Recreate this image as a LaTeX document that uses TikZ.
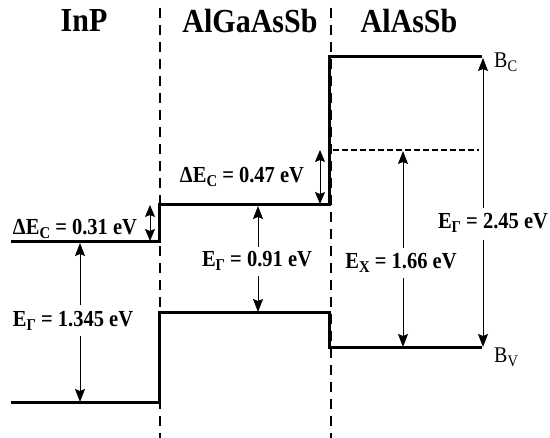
\documentclass[tikz,border=0pt]{standalone}
\usepackage{fontspec}
\setmainfont{Liberation Serif}
\usetikzlibrary{arrows.meta}
\newcommand{\lowsub}[1]{\raisebox{-0.4ex}{\scalebox{0.72}{#1}}}
\newcommand{\tall}[1]{\scalebox{1}[1.12]{#1}}
\tikzset{
  band/.style={line width=3pt, line cap=rect},
  divider/.style={line width=1.4pt, dash pattern=on 10pt off 7pt},
  xlevel/.style={line width=1.6pt, dash pattern=on 6pt off 3pt},
  arr/.style={line width=0.9pt, -{Stealth[length=13pt,width=10pt,inset=2pt]}},
  darr/.style={line width=0.9pt, {Stealth[length=12pt,width=10pt,inset=2pt]}-{Stealth[length=12pt,width=10pt,inset=2pt]}},
  head/.style={font=\fontsize{30}{31}\selectfont\bfseries, inner sep=0pt},
  lab/.style={font=\fontsize{20.5}{22}\selectfont\bfseries, inner sep=1pt},
  edge/.style={font=\fontsize{20}{21}\selectfont, inner sep=0pt, anchor=west}
}
\begin{document}
\begin{tikzpicture}[x=1pt,y=-1pt]
\useasboundingbox (0,0) rectangle (550,438);
% dividers
\coordinate (d1t) at (160,8); \coordinate (d1b) at (160,438);
\coordinate (d2t) at (331,8); \coordinate (d2b) at (331,438);
\draw[divider] (d1t) -- (d1b);
\draw[divider] (d2t) -- (d2b);
% headers
\node[head] (hInP) at (84,21) {\tall{InP}};
\node[head] (hAG) at (250,21) {\tall{AlGaAsSb}};
\node[head] (hAA) at (409,21) {\tall{AlAsSb}};
% conduction band
\coordinate (c0) at (12,242);
\coordinate (c1) at (159,242);
\coordinate (c2) at (159,205);
\coordinate (c3) at (329,205);
\coordinate (c4) at (329,57);
\coordinate (c5) at (480,57);
\draw[band] (c0) -- (c1) -- (c2) -- (c3) -- (c4) -- (c5);
% valence band
\coordinate (v0) at (12,403);
\coordinate (v1) at (159,403);
\coordinate (v2) at (159,313);
\coordinate (v3) at (329,313);
\coordinate (v4) at (329,348);
\coordinate (v5) at (480,348);
\draw[band] (v0) -- (v1) -- (v2) -- (v3) -- (v4) -- (v5);
% X level
\coordinate (x0) at (333,150);
\coordinate (x1) at (479,150);
\draw[xlevel] (x0) -- (x1);
% labels
\node[lab] (l031) at (75,229) {\tall{ΔE\lowsub{C} = 0.31 eV}};
\node[lab] (l1345) at (73,321) {\tall{E\lowsub{Γ} = 1.345 eV}};
\node[lab] (l047) at (242,177) {\tall{ΔE\lowsub{C} = 0.47 eV}};
\node[lab] (l091) at (257,261) {\tall{E\lowsub{Γ} = 0.91 eV}};
\node[lab] (lx) at (401,263) {\tall{E\lowsub{X} = 1.66 eV}};
\node[lab] (l245) at (493,223) {\tall{E\lowsub{Γ} = 2.45 eV}};
\node[edge] (bc) at (494,62) {\tall{B\lowsub{C}}};
\node[edge] (bv) at (494,357) {\tall{B\lowsub{V}}};
% arrows
\coordinate (a1t) at (150,205); \coordinate (a1b) at (150,241);
\draw[darr] (a1b) -- (a1t);
\coordinate (a2t) at (80,243); \coordinate (a2m) at (80,305);
\coordinate (a2n) at (80,336); \coordinate (a2b) at (80,402);
\draw[arr] (a2m) -- (a2t);
\draw[arr] (a2n) -- (a2b);
\coordinate (a3t) at (258,206); \coordinate (a3m) at (258,247);
\coordinate (a3n) at (258,276); \coordinate (a3b) at (258,312);
\draw[arr] (a3m) -- (a3t);
\draw[arr] (a3n) -- (a3b);
\coordinate (a4t) at (320,150); \coordinate (a4b) at (320,204);
\draw[darr] (a4b) -- (a4t);
\coordinate (a5t) at (403,151); \coordinate (a5m) at (403,248);
\coordinate (a5n) at (403,278); \coordinate (a5b) at (403,347);
\draw[arr] (a5m) -- (a5t);
\draw[arr] (a5n) -- (a5b);
\coordinate (a6t) at (483,58); \coordinate (a6m) at (483,208);
\coordinate (a6n) at (483,240); \coordinate (a6b) at (483,347);
\draw[arr] (a6m) -- (a6t);
\draw[arr] (a6n) -- (a6b);
\end{tikzpicture}
\end{document}
